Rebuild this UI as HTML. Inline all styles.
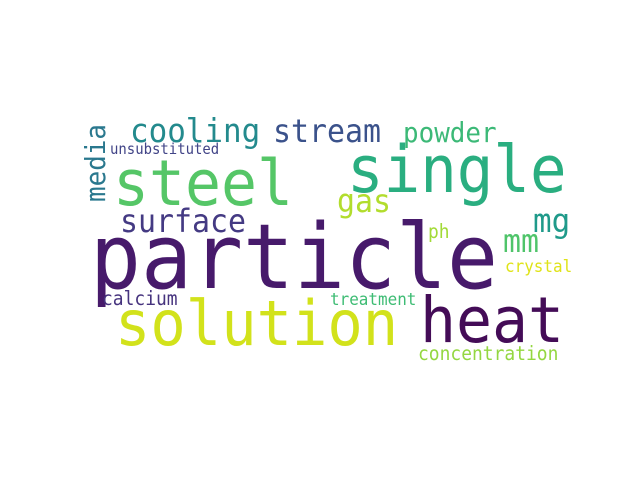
<!DOCTYPE html>
<html>
<head>
<meta charset="utf-8">
<style>
  html,body{margin:0;padding:0;background:#fff;}
  svg{display:block;}
  text{font-family:"DejaVu Sans Mono","Liberation Mono",monospace;}
</style>
</head>
<body>
<svg id="cloud" width="640" height="480" viewBox="0 0 640 480" xmlns="http://www.w3.org/2000/svg">
  <rect x="0" y="0" width="640" height="480" fill="#ffffff"/>
</svg>
<script>
const words = ["particle","steel","single","solution","heat","cooling","stream","powder","media","unsubstituted","gas","surface","mg","mm","ph","crystal","calcium","treatment","concentration"];
const sizes = [85,60,61,59,60,31,30,26,26,14,30,30,31,30,18,16,18,16,18];
const xs = [90,113,347,115,420,130,273,403,105,110,337,120,533,503,428,505,102,330,418];
const ys = [288,205,192,345,342,142,142,142,202,154,212,232,232,252,238,272,305,305,360];
const rots = [0,0,0,0,0,0,0,0,-90,0,0,0,0,0,0,0,0,0,0];
const colors = ["#471a6b","#55c667","#2aae80","#d2e21b","#440c57","#238a8d","#3b528b","#3cb977","#2a788e","#414487","#b2dd2d","#443a83","#1f9a8a","#4fc46a","#a2da37","#dfe318","#46337e","#3ebc74","#94d741"];

const svg = document.getElementById('cloud');
const NS = "http://www.w3.org/2000/svg";
for (let i = 0; i < words.length; i++) {
  const t = document.createElementNS(NS, 'text');
  
  
  t.setAttribute('x', xs[i]);
  t.setAttribute('y', ys[i]);
  t.setAttribute('font-size', (sizes[i] * 1.06).toFixed(1));
  t.setAttribute('fill', colors[i]);
  t.setAttribute('textLength', (words[i].length * 0.6 * sizes[i]).toFixed(1));
  t.setAttribute('lengthAdjust', 'spacingAndGlyphs');
  if (rots[i]) t.setAttribute('transform', 'rotate(' + rots[i] + ' ' + xs[i] + ' ' + ys[i] + ')');
  t.textContent = words[i];
  svg.appendChild(t);
}
</script>
</body>
</html>
